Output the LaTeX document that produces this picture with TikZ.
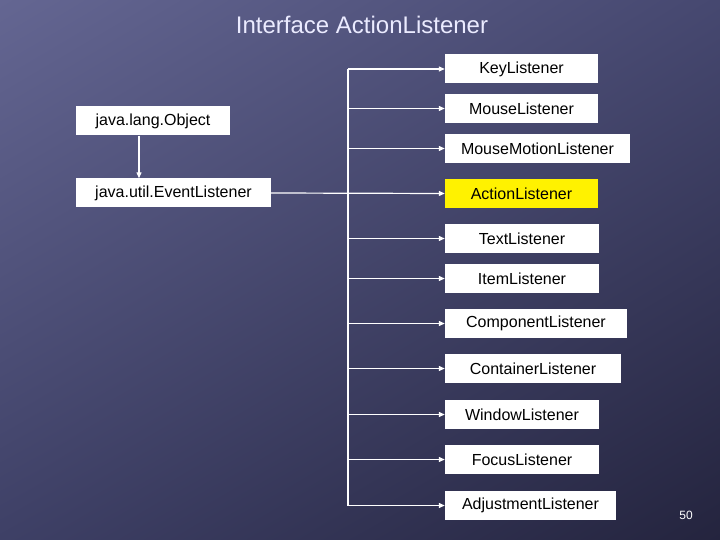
\documentclass[tikz,border=0pt]{standalone}
\usepackage{fontspec}
\setmainfont{Liberation Sans}
\usetikzlibrary{arrows.meta,shadings}
\definecolor{cul}{RGB}{100,102,146}
\definecolor{cur}{RGB}{70,72,112}
\definecolor{cll}{RGB}{62,64,102}
\definecolor{clr}{RGB}{36,36,62}
\begin{document}
\begin{tikzpicture}[x=1pt,y=-1pt,
  bx/.style={fill=white,inner sep=0pt,minimum height=29pt,font=\fontsize{16}{18}\selectfont,text=black},
  ln/.style={draw=white,line width=1.2pt,-{Triangle[length=6pt,width=5pt]}}]
\shade[upper left=cul,upper right=cur,lower left=cll,lower right=clr] (0,0) rectangle (720,540);
\useasboundingbox (0,0) rectangle (720,540);
\node[text=white!92!blue,font=\fontsize{24}{28}\selectfont] (title) at (362,25) {Interface ActionListener};
\node[bx,minimum width=154pt] (obj) at (153,121) {java.lang.Object};
\node[bx,minimum width=195pt] (ev) at (173.5,193) {java.util.EventListener};
\node[bx,minimum width=153pt] (key) at (521.5,69) {KeyListener};
\node[bx,minimum width=153pt] (mouse) at (521.5,108.5) {MouseListener};
\node[bx,minimum width=185pt] (mm) at (537.5,148.5) {MouseMotionListener};
\node[bx,minimum width=153pt,fill=yellow] (act) at (521.5,193.5) {ActionListener};
\node[bx,minimum width=154pt] (text) at (522,238.5) {TextListener};
\node[bx,minimum width=154pt] (item) at (522,278.5) {ItemListener};
\node[bx,minimum width=182pt] (comp) at (536,323.5) {ComponentListener};
\node[bx,minimum width=176pt] (cont) at (533,368.5) {ContainerListener};
\node[bx,minimum width=154pt] (win) at (522,414.5) {WindowListener};
\node[bx,minimum width=154pt] (foc) at (522,459.5) {FocusListener};
\node[bx,minimum width=171pt] (adj) at (530.5,505.5) {AdjustmentListener};
\node[text=white,font=\fontsize{12}{14}\selectfont] (num) at (686,515) {50};
\draw[ln] (obj.south -| 139,0) -- (ev.north -| 139,0);
\draw[ln] (ev.east) -- (act.west);
\coordinate (top) at (348,69);
\coordinate (bot) at (348,505.5);
\draw[white,line width=1.2pt] (top) -- (bot);
\foreach \n in {key,mouse,mm,text,item,comp,cont,win,foc,adj}
  \draw[ln] (\n.west -| top) -- (\n.west);
\end{tikzpicture}
\end{document}
